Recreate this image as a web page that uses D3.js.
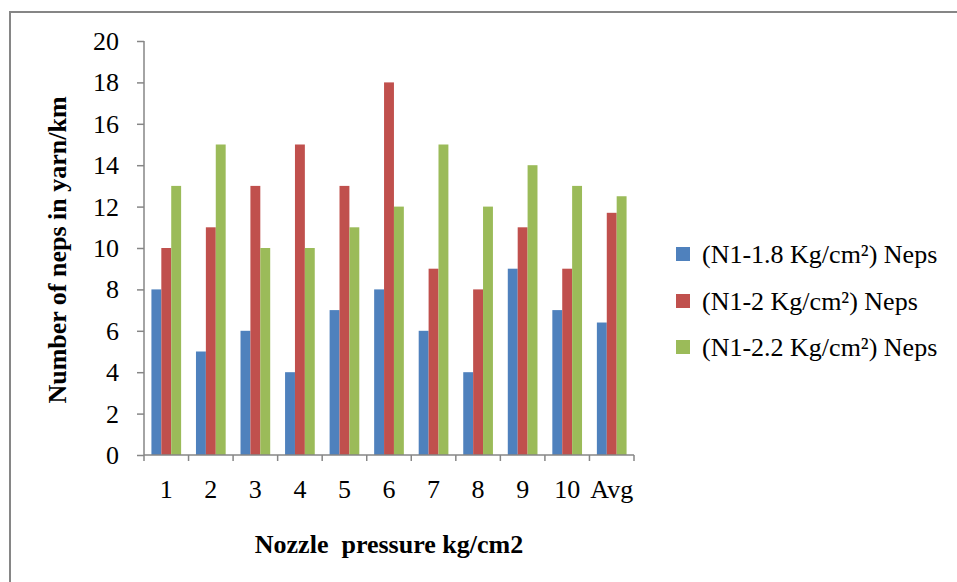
<!DOCTYPE html>
<html>
<head>
<meta charset="utf-8">
<script src="https://cdn.jsdelivr.net/npm/d3@7"></script>
<style>
  body { margin: 0; background: #fff; }
  svg { display: block; }
  svg text { font-family: "Liberation Serif", "DejaVu Serif", serif !important; fill: #000; }
</style>
</head>
<body>
<svg id="chart" width="957" height="582"></svg>
<script>
const categories = ["1", "2", "3", "4", "5", "6", "7", "8", "9", "10", "Avg"];
const seriesNames = ["(N1-1.8 Kg/cm²) Neps", "(N1-2 Kg/cm²) Neps", "(N1-2.2 Kg/cm²) Neps"];
const neps18 = [8, 5, 6, 4, 7, 8, 6, 4, 9, 7, 6.4];
const neps20 = [10, 11, 13, 15, 13, 18, 9, 8, 11, 9, 11.7];
const neps22 = [13, 15, 10, 10, 11, 12, 15, 12, 14, 13, 12.5];
const yTicks = [0, 2, 4, 6, 8, 10, 12, 14, 16, 18, 20];
const colors = ["#4f81bd", "#c0504d", "#9bbb59"];

const series = [neps18, neps20, neps22];
const fontSize = 26;

const svg = d3.select("#chart");

// outer chart border (runs off the right and bottom of the picture)
svg.append("rect")
  .attr("x", 10).attr("y", 12)
  .attr("width", 960).attr("height", 600)
  .attr("fill", "none")
  .attr("stroke", "#868686")
  .attr("stroke-width", 2);

const plot = { left: 144, right: 634, top: 41, bottom: 455 };

const x = d3.scaleBand()
  .domain(categories)
  .range([plot.left, plot.right]);

// Excel-style gap width 150%
const barW = x.bandwidth() / 4.5;
const xInner = d3.scaleBand()
  .domain(d3.range(series.length))
  .range([barW * 0.75, barW * 3.75]);

const y = d3.scaleLinear().domain([0, 20]).range([plot.bottom, plot.top]);

// bars
series.forEach((vals, si) => {
  svg.append("g")
    .selectAll("rect")
    .data(vals)
    .join("rect")
    .attr("x", (d, i) => x(categories[i]) + xInner(si))
    .attr("y", d => y(d))
    .attr("width", xInner.bandwidth())
    .attr("height", d => y(0) - y(d))
    .attr("fill", colors[si]);
});

// y axis
const yAxis = svg.append("g")
  .attr("transform", `translate(${plot.left},0)`)
  .call(d3.axisLeft(y).tickValues(yTicks).tickSize(7).tickPadding(18));
yAxis.selectAll("line, path").attr("stroke", "#868686").attr("stroke-width", 1.5);
yAxis.select(".domain").attr("d", `M0,${plot.top}V${plot.bottom}`);
yAxis.selectAll("text").attr("font-size", fontSize).attr("dy", "0.33em");

// x axis
const xAxis = svg.append("g")
  .attr("transform", `translate(0,${plot.bottom})`)
  .call(d3.axisBottom(x).tickSize(0).tickPadding(25));
xAxis.select(".domain")
  .attr("d", `M${plot.left},0H${plot.right}`)
  .attr("stroke", "#868686").attr("stroke-width", 1.5);
xAxis.selectAll("text").attr("font-size", fontSize);
// category separator ticks
const bounds = categories.map(c => x(c)).concat([plot.right]);
xAxis.append("g")
  .selectAll("line")
  .data(bounds)
  .join("line")
  .attr("x1", d => d).attr("x2", d => d)
  .attr("y1", 0).attr("y2", 6)
  .attr("stroke", "#868686").attr("stroke-width", 1.5);

// axis titles
svg.append("text")
  .attr("x", 389).attr("y", 553)
  .attr("text-anchor", "middle")
  .attr("font-size", fontSize)
  .attr("font-weight", "bold")
  .attr("xml:space", "preserve")
  .text("Nozzle  pressure kg/cm2");

svg.append("text")
  .attr("transform", "translate(66,250) rotate(-90)")
  .attr("text-anchor", "middle")
  .attr("font-size", fontSize)
  .attr("font-weight", "bold")
  .text("Number of neps in yarn/km");

// legend
const legend = svg.append("g");
const legendY = [254, 301, 347];
seriesNames.forEach((name, i) => {
  legend.append("rect")
    .attr("x", 676).attr("y", legendY[i] - 7)
    .attr("width", 14).attr("height", 14)
    .attr("fill", colors[i]);
  legend.append("text")
    .attr("x", 702).attr("y", legendY[i] + 9)
    .attr("font-size", fontSize)
    .text(name);
});
</script>
</body>
</html>
